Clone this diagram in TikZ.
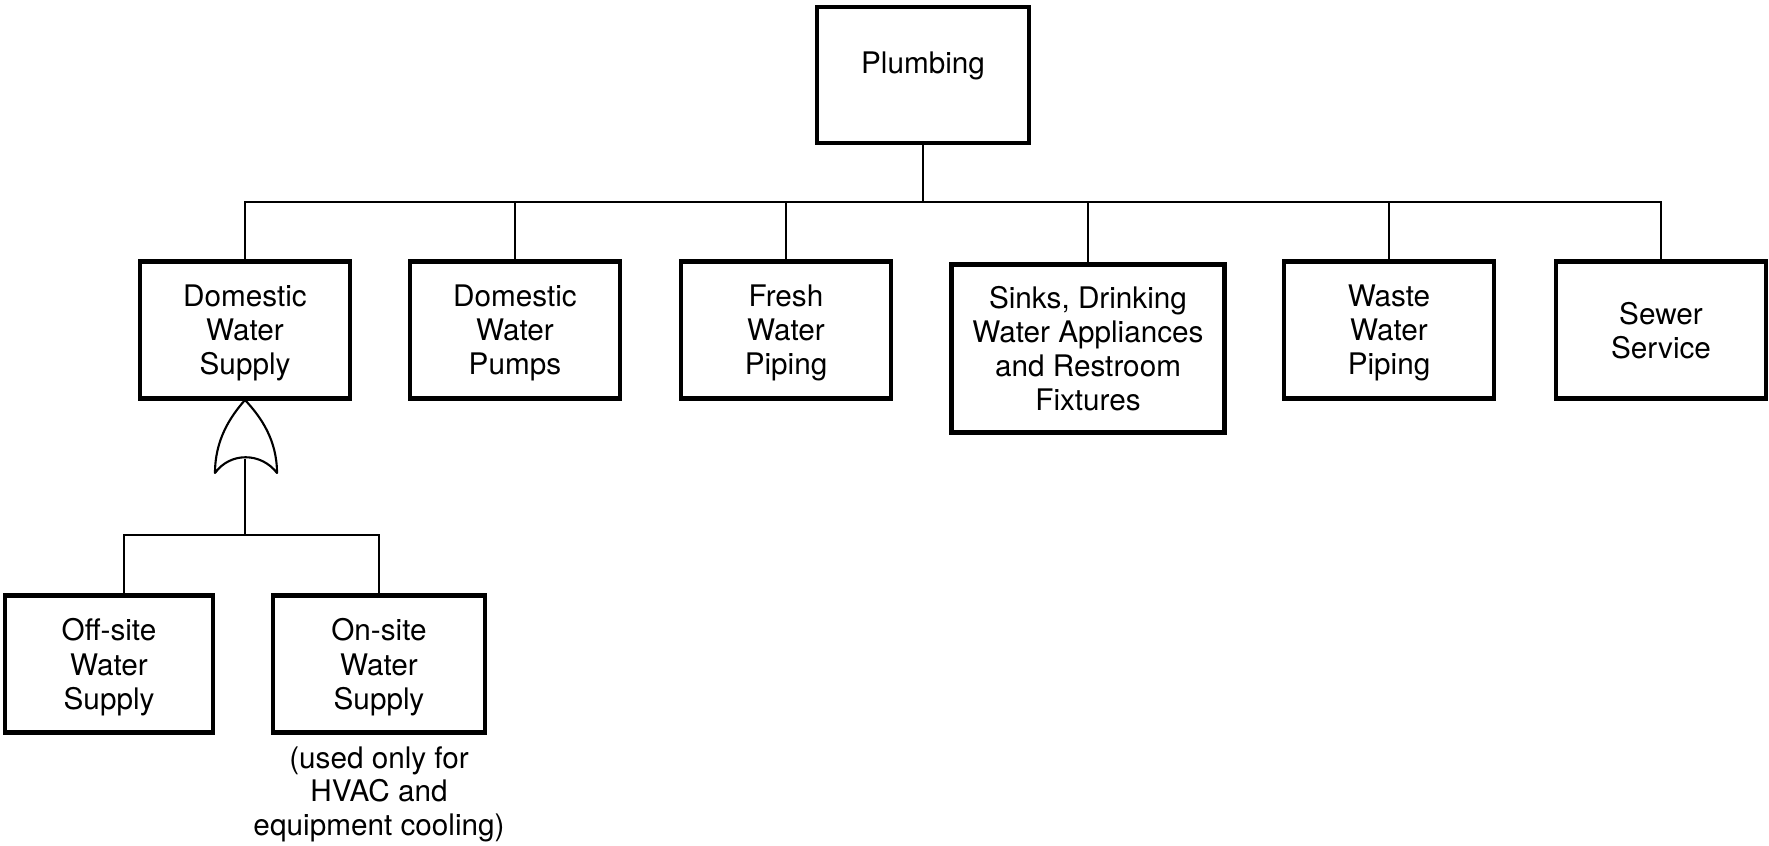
\documentclass[tikz,border=0pt]{standalone}
\usepackage{fontspec}
\setmainfont{TeX Gyre Heros}
\usetikzlibrary{positioning}
\tikzset{
    box/.style={draw, line width=1.3pt, align=center, inner sep=1pt, text depth=0pt,
        minimum width=21mm, minimum height=13.7mm,
        font=\fontsize{8.45}{9.7}\selectfont},
    wire/.style={line width=0.6pt}
}
\begin{document}
\begin{tikzpicture}[x=0.1mm, y=-0.1mm]
        \useasboundingbox (0,0) rectangle (1769,846);
        \node[box, minimum width=21.2mm, minimum height=13.6mm, text depth=2.4mm] (plumb) at (923,75) {Plumbing};
        \node[box] (dws) at (245,330) {Domestic\\Water\\Supply};
        \node[box] (dwp) at (515,330) {Domestic\\Water\\Pumps};
        \node[box] (fwp) at (786,330) {Fresh\\Water\\Piping};
        \node[box, anchor=north, minimum width=27.3mm, minimum height=16.8mm] (sinks) at (1088,262)
            {Sinks, Drinking\\Water Appliances\\and Restroom\\Fixtures};
        \node[box] (wwp) at (1389,330) {Waste\\Water\\Piping};
        \node[box] (sewer) at (1661,330) {Sewer\\Service};
        \node[box, minimum width=20.8mm] (off) at (109,664) {Off-site\\Water\\Supply};
        \node[box, minimum width=21.2mm] (on) at (379,664) {On-site\\Water\\Supply};
        \node[below=1.1mm of on, align=center, inner sep=0pt, font=\fontsize{8.45}{9.6}\selectfont] (note)
            {(used only for\\HVAC and\\equipment cooling)};
        \coordinate (bus) at (0,202);
        \coordinate (gin) at (245,459);
        \coordinate (bus2) at (0,535);
        \draw[wire] (plumb.south) -- (plumb.south |- bus);
        \draw[wire] (dws.north) -- (dws.north |- bus) -- (sewer.north |- bus) -- (sewer.north);
        \foreach \n in {dwp,fwp,sinks,wwp} {
            \draw[wire] (\n.north) -- (\n.north |- bus);
        }
        \draw[wire, line join=round] (245,400) .. controls (230,417) and (215,440) .. (215,473)
            .. controls (230,452) and (261,452) .. (277,473)
            .. controls (277,440) and (261,417) .. (245,400);
        \draw[wire] (gin) -- (gin |- bus2);
        \draw[wire] ([xshift=1.5mm]off.north) -- ([xshift=1.5mm]off.north |- bus2) -- (on.north |- bus2) -- (on.north);
    \end{tikzpicture}
\end{document}
